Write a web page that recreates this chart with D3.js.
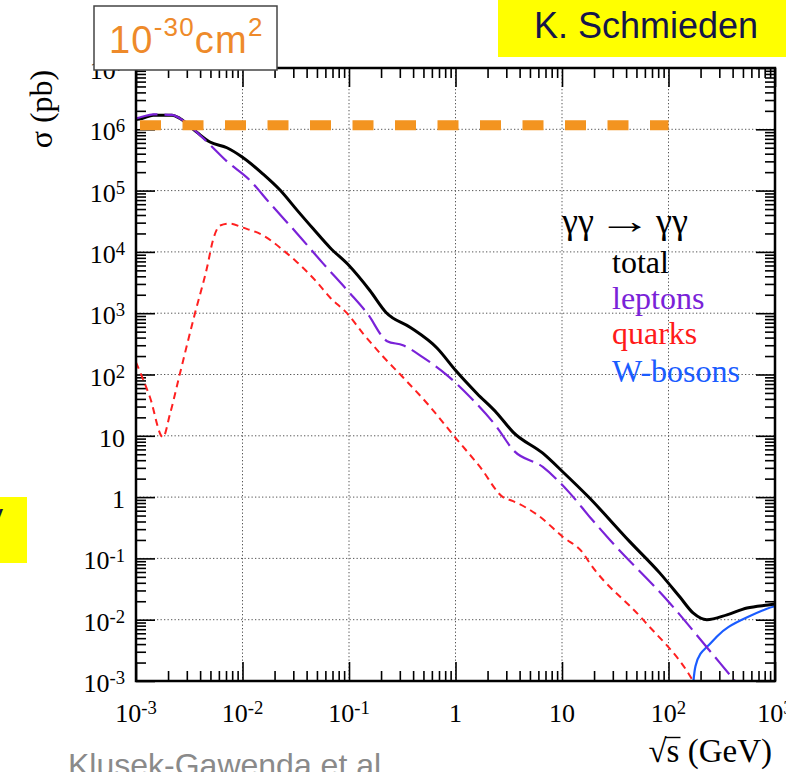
<!DOCTYPE html>
<html>
<head>
<meta charset="utf-8">
<script src="https://cdn.jsdelivr.net/npm/d3@7/dist/d3.min.js"></script>
<style>
  html, body { margin: 0; padding: 0; background: #ffffff; }
  svg { display: block; }
</style>
</head>
<body>
<svg id="chart" width="786" height="772"></svg>
<script>
// ---------------- DATA ----------------
// sqrt(s) in GeV, sigma in pb
const totalX = [0.001, 0.00114, 0.00145, 0.00218, 0.00259, 0.00374, 0.00495, 0.00714, 0.01, 0.0156, 0.0225, 0.0325, 0.0459, 0.0664, 0.1, 0.157, 0.224, 0.374, 0.67, 1.0, 1.59, 2.45, 3.47, 6.6, 10.2, 17.5, 43.5, 83, 128, 170, 229, 354, 546, 859, 1000];
const totalY = [1.45e6, 1.5e6, 1.7e6, 1.7e6, 1.5e6, 8.9e5, 6.2e5, 5.0e5, 3.5e5, 1.86e5, 1.02e5, 4.8e4, 2.4e4, 1.17e4, 6.0e3, 2.35e3, 1.02e3, 590, 270, 117, 49, 23.4, 11.5, 5.2, 2.57, 1.03, 0.186, 0.0575, 0.0234, 0.0129, 0.0100, 0.0120, 0.0155, 0.0174, 0.018];

const leptonsX = [0.001, 0.00114, 0.00145, 0.00218, 0.00259, 0.00374, 0.00495, 0.00714, 0.0117, 0.0181, 0.0325, 0.057, 0.1, 0.148, 0.228, 0.321, 0.495, 0.83, 1.37, 2.45, 3.47, 6.6, 11.9, 18.3, 28.2, 103, 229, 421, 500];
const leptonsY = [1.5e6, 1.6e6, 1.75e6, 1.72e6, 1.5e6, 8.9e5, 5.6e5, 3.0e5, 1.48e5, 6.2e4, 2.0e4, 6.5e3, 2.2e3, 1.0e3, 350, 300, 190, 98, 43, 13.8, 5.9, 3.1, 1.15, 0.47, 0.20, 0.0186, 0.00355, 0.001, 0.0007];

const quarksX = [0.001, 0.00135, 0.00179, 0.00209, 0.00259, 0.00358, 0.00465, 0.00528, 0.00617, 0.00764, 0.01, 0.0156, 0.024, 0.0325, 0.0501, 0.0664, 0.0957, 0.135, 0.204, 0.321, 0.54, 1.01, 1.7, 2.79, 3.47, 5.82, 10.2, 15.7, 18.3, 57.7, 170, 200];
const quarksY = [158, 43, 9.5, 23, 105, 1000, 5600, 1.55e4, 2.7e4, 2.9e4, 2.5e4, 1.86e4, 1.07e4, 6.8e3, 3.2e3, 1.8e3, 1.0e3, 470, 205, 90, 34, 9.1, 3.1, 1.0, 0.86, 0.52, 0.224, 0.123, 0.083, 0.01, 0.001, 0.0006];

const wbosonsX = [161, 170, 177, 198, 230, 285, 354, 546, 859, 1000];
const wbosonsY = [0.0002, 0.0009, 0.0018, 0.0029, 0.00355, 0.0054, 0.0076, 0.011, 0.0155, 0.0166];

// orange 10^-30 cm^2 level (= 10^6 pb) marked over the range
const levelX = [0.001, 100];
const levelY = [1.16e6, 1.16e6];

const xTickValues = [1e-3, 1e-2, 1e-1, 1, 10, 1e2, 1e3];
const xTickLabels = ["10^-3", "10^-2", "10^-1", "1", "10", "10^2", "10^3"];
const yTickValues = [1e-3, 1e-2, 1e-1, 1, 10, 1e2, 1e3, 1e4, 1e5, 1e6, 1e7];
const yTickLabels = ["10^-3", "10^-2", "10^-1", "1", "10", "10^2", "10^3", "10^4", "10^5", "10^6", "10^7"];

const legendTitle = ["γγ", "→", "γγ"];
const legendNames = ["total", "leptons", "quarks", "W-bosons"];

// ---------------- CHART ----------------
const svg = d3.select("#chart");
const X0 = 136, X1 = 775, Y0 = 681, Y1 = 68;
const x = d3.scaleLog().domain([1e-3, 1e3]).range([X0, X1]);
const y = d3.scaleLog().domain([1e-3, 1e7]).range([Y0, Y1]);

const serif = "'Liberation Serif', 'Times New Roman', serif";
const sans = "'Liberation Sans', Arial, Helvetica, sans-serif";

// yellow boxes
svg.append("rect").attr("x", 498).attr("y", 0).attr("width", 288).attr("height", 57).attr("fill", "#ffff00");
svg.append("text").attr("x", 646).attr("y", 38).attr("text-anchor", "middle")
  .attr("font-family", sans).attr("font-size", 36).attr("fill", "#15154a").text("K. Schmieden");
svg.append("rect").attr("x", 0).attr("y", 497).attr("width", 27).attr("height", 66).attr("fill", "#ffff00");
svg.append("text").attr("x", -12).attr("y", 525).attr("font-family", sans).attr("font-size", 30)
  .attr("fill", "#15154a").text("y");

// grid
const gridX = xTickValues.slice(1, -1);
const gridY = yTickValues.slice(1, -1);
const grid = svg.append("g").attr("stroke", "#555").attr("stroke-width", 1).attr("stroke-dasharray", "1.3,2.2");
grid.selectAll(".gx").data(gridX).enter().append("line")
  .attr("x1", d => x(d)).attr("x2", d => x(d)).attr("y1", Y1).attr("y2", Y0);
grid.selectAll(".gy").data(gridY).enter().append("line")
  .attr("y1", d => y(d)).attr("y2", d => y(d)).attr("x1", X0).attr("x2", X1);

// ticks via d3 axes (inward)
function minorTicks(lo, hi) {
  const out = [];
  for (let e = lo; e < hi; e++) for (let k = 2; k <= 9; k++) out.push(k * Math.pow(10, e));
  return out;
}
const xMinor = minorTicks(-3, 3);
const yMinor = minorTicks(-3, 7);

function styleAxis(g) {
  g.select(".domain").remove();
  g.selectAll("line").attr("stroke", "#000").attr("stroke-width", 1.6);
  g.selectAll("text").remove();
}
const axDefs = [
  [d3.axisBottom, x, `translate(0,${Y0})`],
  [d3.axisTop, x, `translate(0,${Y1})`],
  [d3.axisLeft, y, `translate(${X0},0)`],
  [d3.axisRight, y, `translate(${X1},0)`]
];
axDefs.forEach(([fn, sc, tr]) => {
  const isX = sc === x;
  svg.append("g").attr("transform", tr)
    .call(fn(sc).tickValues(isX ? xMinor : yMinor).tickSize(-10).tickFormat(""))
    .call(styleAxis);
  svg.append("g").attr("transform", tr)
    .call(fn(sc).tickValues(isX ? xTickValues : yTickValues).tickSize(-19).tickFormat(""))
    .call(styleAxis);
});

// curves
svg.append("clipPath").attr("id", "clip").append("rect")
  .attr("x", X0).attr("y", Y1).attr("width", X1 - X0).attr("height", Y0 - Y1);
const line = d3.line().x(d => x(d[0])).y(d => y(d[1])).curve(d3.curveMonotoneX);
const zip = (a, b) => a.map((v, i) => [v, b[i]]);
const curves = svg.append("g").attr("clip-path", "url(#clip)").attr("fill", "none");
curves.append("path").datum(zip(quarksX, quarksY)).attr("d", line)
  .attr("stroke", "#ff2020").attr("stroke-width", 2).attr("stroke-dasharray", "7,5");
curves.append("path").datum(zip(wbosonsX, wbosonsY)).attr("d", d3.line().x(d => x(d[0])).y(d => y(d[1])).curve(d3.curveBasis))
  .attr("stroke", "#1a5cff").attr("stroke-width", 2.2);
curves.append("path").datum(zip(totalX, totalY)).attr("d", line)
  .attr("stroke", "#000").attr("stroke-width", 3);
curves.append("path").datum(zip(leptonsX, leptonsY)).attr("d", line)
  .attr("stroke", "#7a22d8").attr("stroke-width", 2.2).attr("stroke-dasharray", "22,7");

// orange level
svg.append("path").datum(zip(levelX, levelY)).attr("d", d3.line().x(d => x(d[0])).y(d => y(d[1])))
  .attr("stroke", "#f39420").attr("stroke-width", 10).attr("stroke-dasharray", "21,21.5")
  .attr("stroke-dashoffset", 38.5).attr("fill", "none");

// frame
svg.append("rect").attr("x", X0).attr("y", Y1).attr("width", X1 - X0).attr("height", Y0 - Y1)
  .attr("fill", "none").attr("stroke", "#000").attr("stroke-width", 2.5);

// tick labels with superscripts
function supText(sel, label) {
  const parts = label.split("^");
  sel.append("tspan").text(parts[0]);
  if (parts.length > 1) sel.append("tspan").attr("dy", "-0.42em").attr("font-size", "0.72em").text(parts[1]);
}
xTickValues.forEach((v, i) => {
  const t = svg.append("text").attr("x", x(v)).attr("y", 722).attr("text-anchor", "middle")
    .attr("font-family", serif).attr("font-size", 26).attr("fill", "#000");
  supText(t, xTickLabels[i]);
});
yTickValues.forEach((v, i) => {
  const t = svg.append("text").attr("x", 125).attr("y", y(v) + 11).attr("text-anchor", "end")
    .attr("font-family", serif).attr("font-size", 26).attr("fill", "#000");
  supText(t, yTickLabels[i]);
});

// axis titles
svg.append("text").attr("transform", "translate(52,109) rotate(-90)").attr("text-anchor", "middle")
  .attr("font-family", serif).attr("font-size", 32).attr("fill", "#000").text("σ (pb)");
const xt = svg.append("text").attr("x", 772).attr("y", 762).attr("text-anchor", "end")
  .attr("font-family", serif).attr("font-size", 33).attr("fill", "#000").text("√s (GeV)");
// overbar of the square root over "s"
const xtNode = xt.node();
try {
  const bb = xtNode.getBBox();
  const rootW = xtNode.getSubStringLength(0, 1);
  const sW = xtNode.getSubStringLength(1, 1);
  svg.append("line").attr("x1", bb.x + rootW - 1.5).attr("x2", bb.x + rootW + sW + 1)
    .attr("y1", bb.y + 4.5).attr("y2", bb.y + 4.5).attr("stroke", "#000").attr("stroke-width", 1.4);
} catch (e) {}

// legend
svg.append("text").attr("x", 562).attr("y", 233).attr("font-family", serif).attr("font-size", 36)
  .attr("fill", "#000").text(legendTitle[0]);
svg.append("text").attr("transform", "translate(598,233) scale(1.5,1)").attr("font-family", serif)
  .attr("font-size", 36).attr("fill", "#000").text(legendTitle[1]);
svg.append("text").attr("x", 656).attr("y", 233).attr("font-family", serif).attr("font-size", 36)
  .attr("fill", "#000").text(legendTitle[2]);
const legendColors = ["#000000", "#7a22d8", "#ff1a1a", "#1a5cff"];
const legendYs = [273, 309, 344, 382];
legendNames.forEach((n, i) => {
  svg.append("text").attr("x", 612).attr("y", legendYs[i]).attr("font-family", serif)
    .attr("font-size", 32).attr("fill", legendColors[i]).text(n);
});

// orange unit box
svg.append("rect").attr("x", 94).attr("y", 6).attr("width", 183).attr("height", 64)
  .attr("fill", "#fff").attr("stroke", "#444").attr("stroke-width", 1.5);
const ob = svg.append("text").attr("x", 109).attr("y", 53).attr("font-family", sans)
  .attr("font-size", 38).attr("letter-spacing", 1.2).attr("fill", "#ee8a2a");
ob.append("tspan").text("10");
ob.append("tspan").attr("dy", -17).attr("font-size", 26).text("-30");
ob.append("tspan").attr("dy", 17).text("cm");
ob.append("tspan").attr("dy", -17).attr("font-size", 26).text("2");

// bottom citation
svg.append("text").attr("x", 68).attr("y", 776).attr("font-family", sans).attr("font-size", 32)
  .attr("fill", "#8a8a8a").text("Klusek-Gawenda et al.");
</script>
</body>
</html>
